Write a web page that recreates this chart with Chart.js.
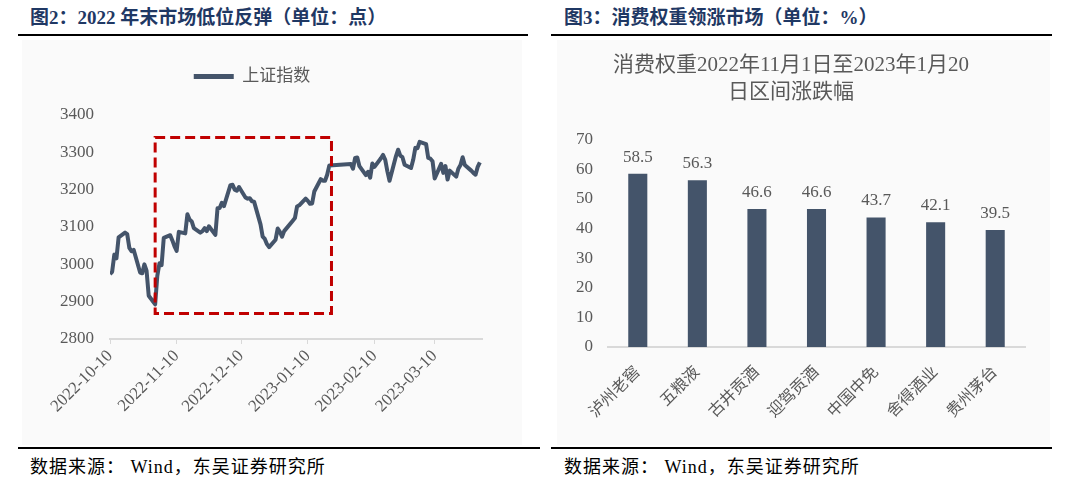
<!DOCTYPE html>
<html>
<head>
<meta charset="utf-8">
<script src="https://cdn.jsdelivr.net/npm/chart.js@4.4.1/dist/chart.umd.min.js"></script>
<style>
    body {
        margin: 0;
        width: 1080px;
        height: 495px;
        position: relative;
        overflow: hidden;
        background: #ffffff;
        font-family: "Liberation Serif", "Noto Sans CJK SC", serif;
    }
    .title {
        position: absolute;
        top: 6px;
        font-size: 19px;
        font-weight: bold;
        color: #1f3864;
        white-space: nowrap;
        line-height: 24px;
    }
    .rule {
        position: absolute;
        height: 2px;
        background: #000000;
    }
    .src {
        position: absolute;
        top: 455px;
        font-size: 18px;
        letter-spacing: 1px;
        color: #000000;
        white-space: nowrap;
        line-height: 24px;
    }
    .panel {
        position: absolute;
        top: 40px;
        height: 405px;
        background: #fafafa;
    }
</style>
</head>
<body>

<div class="title" style="left:30px;">图2：2022 年末市场低位反弹（单位：点）</div>
<div class="rule" style="left:18px;width:510px;top:34px;"></div>
<div class="panel" style="left:22px;width:500px;"><canvas id="indexChart" width="500" height="405"></canvas></div>
<div class="rule" style="left:18px;width:522px;top:447px;"></div>
<div class="src" style="left:30px;">数据来源： Wind，东吴证券研究所</div>

<div class="title" style="left:564px;">图3：消费权重领涨市场（单位：%）</div>
<div class="rule" style="left:551px;width:501px;top:34px;"></div>
<div class="panel" style="left:557px;width:493px;"><canvas id="gainChart" width="493" height="405"></canvas></div>
<div class="rule" style="left:551px;width:501px;top:447px;"></div>
<div class="src" style="left:564px;">数据来源： Wind，东吴证券研究所</div>

<script>
// =====================================
// DATA
// =====================================

// 上证指数 收盘 (交易日)
const tradeDates = [
    "2022-10-10", "2022-10-11", "2022-10-12", "2022-10-13", "2022-10-14",
    "2022-10-17", "2022-10-18", "2022-10-19", "2022-10-20", "2022-10-21",
    "2022-10-24", "2022-10-25", "2022-10-26", "2022-10-27", "2022-10-28",
    "2022-10-31", "2022-11-01", "2022-11-02", "2022-11-03", "2022-11-04",
    "2022-11-07", "2022-11-08", "2022-11-09", "2022-11-10", "2022-11-11",
    "2022-11-14", "2022-11-15", "2022-11-16", "2022-11-17", "2022-11-18",
    "2022-11-21", "2022-11-22", "2022-11-23", "2022-11-24", "2022-11-25",
    "2022-11-28", "2022-11-29", "2022-11-30", "2022-12-01", "2022-12-02",
    "2022-12-05", "2022-12-06", "2022-12-07", "2022-12-08", "2022-12-09",
    "2022-12-12", "2022-12-13", "2022-12-14", "2022-12-15", "2022-12-16",
    "2022-12-19", "2022-12-20", "2022-12-21", "2022-12-22", "2022-12-23",
    "2022-12-26", "2022-12-27", "2022-12-28", "2022-12-29", "2022-12-30",
    "2023-01-03", "2023-01-04", "2023-01-05", "2023-01-06", "2023-01-09",
    "2023-01-10", "2023-01-11", "2023-01-12", "2023-01-13", "2023-01-16",
    "2023-01-17", "2023-01-18", "2023-01-19", "2023-01-20", "2023-01-30",
    "2023-01-31", "2023-02-01", "2023-02-02", "2023-02-03", "2023-02-06",
    "2023-02-07", "2023-02-08", "2023-02-09", "2023-02-10", "2023-02-13",
    "2023-02-14", "2023-02-15", "2023-02-16", "2023-02-17", "2023-02-20",
    "2023-02-21", "2023-02-22", "2023-02-23", "2023-02-24", "2023-02-27",
    "2023-02-28", "2023-03-01", "2023-03-02", "2023-03-03", "2023-03-06",
    "2023-03-07", "2023-03-08", "2023-03-09", "2023-03-10", "2023-03-13",
    "2023-03-14", "2023-03-15", "2023-03-16", "2023-03-17", "2023-03-20",
    "2023-03-21", "2023-03-22", "2023-03-23", "2023-03-24", "2023-03-27",
    "2023-03-28", "2023-03-29", "2023-03-30", "2023-03-31"
];

const indexValues = [
    2974, 2980, 3026, 3016, 3072,
    3085, 3081, 3044, 3035, 3039,
    2978, 2976, 3000, 2983, 2916,
    2893, 2969, 3003, 2998, 3071,
    3078, 3064, 3048, 3036, 3087,
    3083, 3134, 3120, 3115, 3097,
    3085, 3089, 3097, 3089, 3102,
    3079, 3150, 3151, 3165, 3156,
    3212, 3213, 3200, 3197, 3207,
    3179, 3176, 3177, 3169, 3168,
    3107, 3074, 3068, 3054, 3046,
    3066, 3096, 3087, 3074, 3089,
    3117, 3124, 3155, 3158, 3176,
    3170, 3162, 3163, 3195, 3228,
    3224, 3224, 3240, 3265, 3269,
    3256, 3285, 3286, 3263, 3239,
    3248, 3232, 3270, 3261, 3284,
    3293, 3280, 3249, 3224, 3290,
    3307, 3291, 3287, 3267, 3258,
    3280, 3312, 3311, 3328, 3322,
    3285, 3283, 3276, 3230, 3269,
    3245, 3263, 3227, 3251, 3235,
    3256, 3266, 3287, 3266, 3251,
    3245, 3240, 3261, 3273
];

const dateTicks = ["2022-10-10", "2022-11-10", "2022-12-10", "2023-01-10", "2023-02-10", "2023-03-10"];
const dateAxisEnd = "2023-04-01";
const indexTicks = [2800, 2900, 3000, 3100, 3200, 3300, 3400];

// 红框: 低位反弹区间
const boxFrom = "2022-10-31";
const boxTo = "2023-01-21";
const boxLow = 2868;
const boxHigh = 3340;

// 消费权重区间涨跌幅
const stockNames = ["泸州老窖", "五粮液", "古井贡酒", "迎驾贡酒", "中国中免", "舍得酒业", "贵州茅台"];
const gainValues = [58.5, 56.3, 46.6, 46.6, 43.7, 42.1, 39.5];
const gainTicks = [0, 10, 20, 30, 40, 50, 60, 70];

// =====================================
// HELPERS
// =====================================

const slate = "#44546a";
const grey = "#595959";
const fontFamily = '"Liberation Serif", "Noto Sans CJK SC", serif';

function dayOf(s) {
    return Math.round((Date.parse(s) - Date.parse(tradeDates[0])) / 86400000);
}

// =====================================
// 图2 上证指数
// =====================================

const reboundBox = {
    id: "reboundBox",
    afterDatasetsDraw(chart) {
        const { ctx, scales } = chart;
        const x1 = scales.x.getPixelForValue(dayOf(boxFrom));
        const x2 = scales.x.getPixelForValue(dayOf(boxTo));
        const y1 = scales.y.getPixelForValue(boxHigh);
        const y2 = scales.y.getPixelForValue(boxLow);
        ctx.save();
        ctx.strokeStyle = "#c00000";
        ctx.lineWidth = 3;
        ctx.setLineDash([10, 5]);
        ctx.strokeRect(x1, y1, x2 - x1, y2 - y1);
        ctx.restore();
    }
};

const legendGap = {
    id: "legendGap",
    beforeInit(chart) {
        const fit = chart.legend.fit;
        chart.legend.fit = function () {
            fit.bind(chart.legend)();
            this.height += 20;
        };
    }
};

new Chart(document.getElementById("indexChart"), {
    type: "line",
    data: {
        datasets: [{
            label: "上证指数",
            data: tradeDates.map((d, i) => ({ x: dayOf(d), y: indexValues[i] })),
            borderColor: slate,
            backgroundColor: slate,
            borderWidth: 4,
            pointRadius: 0,
            tension: 0,
            borderJoinStyle: "round"
        }]
    },
    options: {
        responsive: false,
        animation: false,
        layout: { padding: { top: 18, right: 40, bottom: 0, left: 0 } },
        plugins: {
            legend: {
                labels: {
                    boxWidth: 40,
                    boxHeight: 5,
                    padding: 10,
                    color: grey,
                    font: { family: fontFamily, size: 17 },
                    generateLabels: (chart) => Chart.defaults.plugins.legend.labels.generateLabels(chart)
                        .map(l => Object.assign(l, { lineWidth: 0 }))
                }
            },
            tooltip: { enabled: false }
        },
        scales: {
            x: {
                type: "linear",
                min: 0,
                max: dayOf(dateAxisEnd),
                afterBuildTicks: (axis) => { axis.ticks = dateTicks.map(d => ({ value: dayOf(d) })); },
                afterFit: (s) => { s.height = 106; },
                grid: { drawOnChartArea: false, drawTicks: true, tickLength: 5, color: "#d9d9d9" },
                border: { color: "#d9d9d9", width: 2 },
                ticks: {
                    autoSkip: false,
                    minRotation: 45,
                    maxRotation: 45,
                    padding: 2,
                    color: grey,
                    font: { family: fontFamily, size: 17 },
                    callback: (v) => dateTicks[dateTicks.map(dayOf).indexOf(v)]
                }
            },
            y: {
                min: indexTicks[0],
                max: indexTicks[indexTicks.length - 1],
                afterFit: (s) => { s.width = 88; },
                grid: { display: false, drawTicks: false },
                border: { display: false },
                ticks: {
                    stepSize: 100,
                    padding: 16,
                    color: grey,
                    font: { family: fontFamily, size: 17 },
                    callback: (v) => String(v)
                }
            }
        }
    },
    plugins: [reboundBox, legendGap]
});

// =====================================
// 图3 消费权重涨跌幅
// =====================================

const barLabels = {
    id: "barLabels",
    afterDatasetsDraw(chart) {
        const ctx = chart.ctx;
        const meta = chart.getDatasetMeta(0);
        ctx.save();
        ctx.font = '17px "Liberation Serif"';
        ctx.fillStyle = grey;
        ctx.textAlign = "center";
        ctx.textBaseline = "bottom";
        meta.data.forEach((bar, i) => {
            ctx.fillText(gainValues[i].toFixed(1), bar.x, bar.y - 8);
        });
        ctx.restore();
    }
};

new Chart(document.getElementById("gainChart"), {
    type: "bar",
    data: {
        labels: stockNames,
        datasets: [{
            data: gainValues,
            backgroundColor: slate,
            categoryPercentage: 1,
            barPercentage: 0.32
        }]
    },
    options: {
        responsive: false,
        animation: false,
        layout: { padding: { top: 0, right: 25, bottom: 0, left: 0 } },
        plugins: {
            legend: { display: false },
            tooltip: { enabled: false },
            title: {
                display: true,
                text: ["消费权重2022年11月1日至2023年1月20", "日区间涨跌幅"],
                color: grey,
                font: { family: fontFamily, size: 21, weight: "normal", lineHeight: 1.3 },
                padding: { top: 12, bottom: 33 }
            }
        },
        scales: {
            x: {
                afterFit: (s) => { s.height = 98; },
                grid: { display: false },
                border: { color: "#d9d9d9", width: 2 },
                ticks: {
                    autoSkip: false,
                    minRotation: 45,
                    maxRotation: 45,
                    padding: 8,
                    color: grey,
                    font: { family: fontFamily, size: 16 }
                }
            },
            y: {
                min: gainTicks[0],
                max: gainTicks[gainTicks.length - 1],
                afterFit: (s) => { s.width = 51; },
                grid: { display: false, drawTicks: false },
                border: { display: false },
                ticks: {
                    stepSize: 10,
                    padding: 15,
                    color: grey,
                    font: { family: fontFamily, size: 17 }
                }
            }
        }
    },
    plugins: [barLabels]
});
</script>
</body>
</html>
